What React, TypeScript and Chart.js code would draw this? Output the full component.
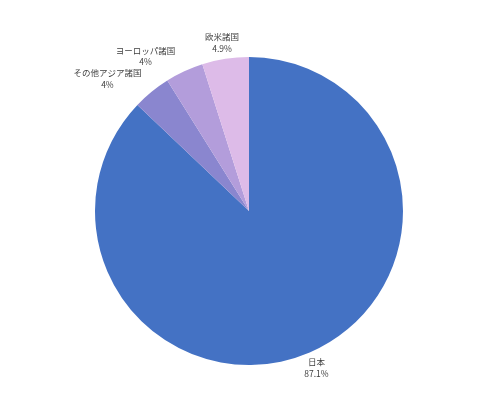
import { Chart, ChartConfiguration, Plugin, registerables } from "chart.js";
import { useEffect, useRef } from "react";

Chart.register(...registerables);

const categories = ["日本", "その他アジア諸国", "ヨーロッパ諸国", "欧米諸国"];
const shares = [87.1, 4, 4, 4.9];
const shareLabels = ["87.1%", "4%", "4%", "4.9%"];
const sliceColors = ["#4472C4", "#8A86CF", "#B39DDB", "#DDBBE8"];

const FONT = '8.5px "Noto Sans CJK JP", "Noto Sans", sans-serif';
const LINE_H = 11.5;

// outside-end labels, two lines (name + share), placed along each slice's mid angle
const outsideLabels: Plugin<"pie"> = {
  id: "outsideLabels",
  afterDatasetsDraw(chart) {
    const ctx = chart.ctx;
    const meta = chart.getDatasetMeta(0);
    ctx.save();
    ctx.font = FONT;
    ctx.fillStyle = "#404040";
    ctx.textAlign = "center";
    ctx.textBaseline = "middle";
    meta.data.forEach((el: any, i) => {
      const mid = (el.startAngle + el.endAngle) / 2;
      const cosA = Math.cos(mid);
      const sinA = Math.sin(mid);
      const r = el.outerRadius + 5;
      const ax = el.x + cosA * r;
      const ay = el.y + sinA * r;
      const lines = [categories[i], shareLabels[i]];
      const w = Math.max(...lines.map((t) => ctx.measureText(t).width));
      const h = LINE_H * 2;
      let cx: number;
      if (cosA < -0.3) {
        cx = ax - 7 - w / 2;
      } else {
        cx = ax + (w / 2) * cosA;
      }
      const cy = ay + (h / 2) * sinA;
      ctx.fillText(lines[0], cx, cy - LINE_H / 2);
      ctx.fillText(lines[1], cx, cy + LINE_H / 2);
    });
    ctx.restore();
  }
};

const whiteBg: Plugin<"pie"> = {
  id: "whiteBg",
  beforeDraw(chart) {
    const ctx = chart.ctx;
    ctx.save();
    ctx.fillStyle = "#ffffff";
    ctx.fillRect(0, 0, chart.width, chart.height);
    ctx.restore();
  }
};

function App() {
  const canvasRef = useRef<HTMLCanvasElement | null>(null);

  useEffect(() => {
    const canvas = canvasRef.current;
    if (!canvas) {
      return;
    }

    const config: ChartConfiguration<"pie"> = {
      type: "pie",
      data: {
        labels: categories,
        datasets: [
          {
            data: shares,
            backgroundColor: sliceColors,
            borderWidth: 0
          }
        ]
      },
      options: {
        responsive: false,
        animation: false,
        layout: {
          padding: { top: 57, bottom: 46, left: 95, right: 87 }
        },
        plugins: {
          legend: { display: false },
          tooltip: { enabled: false }
        }
      },
      plugins: [whiteBg, outsideLabels]
    };
    const chart = new Chart(canvas, config);

    return () => {
      chart.destroy();
    };
  }, []);

  return (
    <div style={{ position: "fixed", left: 0, top: 0, width: 490, height: 411, background: "#fff" }}>
      <canvas ref={canvasRef} width={490} height={411} />
    </div>
  );
}

export default App;
